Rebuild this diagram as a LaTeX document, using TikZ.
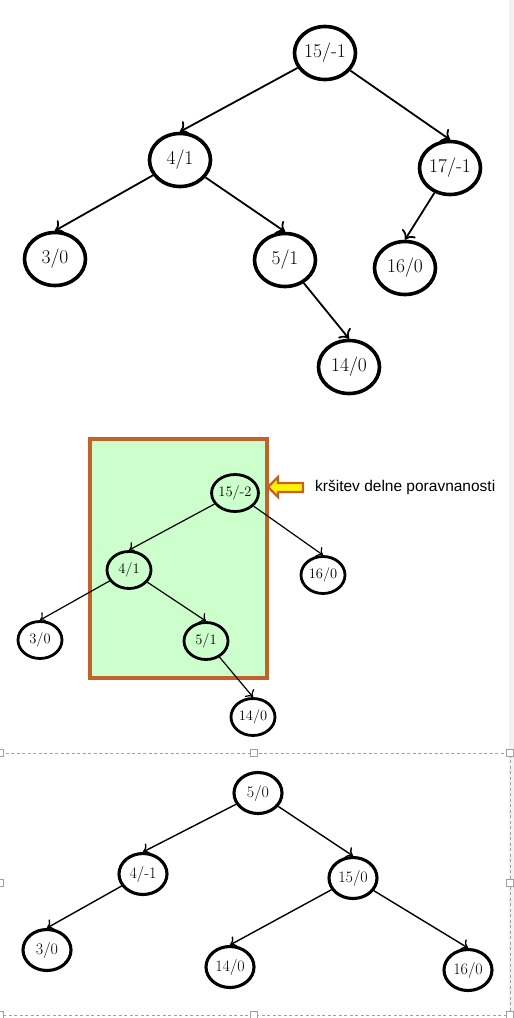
\documentclass[tikz,border=0pt]{standalone}
\usepackage{fontspec}
\newfontfamily\notefont{Liberation Sans}
\usetikzlibrary{shapes.geometric,arrows.meta}

\definecolor{boxgreen}{RGB}{204,255,204}
\definecolor{boxorange}{RGB}{192,98,42}
\definecolor{frame}{RGB}{160,160,160}
\definecolor{strip}{RGB}{243,242,241}

\tikzset{
  bignode/.style={ellipse, draw, line width=3.6pt, minimum width=61pt, minimum height=53pt,
    inner sep=0pt, font=\fontsize{19.5}{21}\selectfont},
  midnode/.style={ellipse, draw, line width=2.8pt, minimum width=44pt, minimum height=37pt,
    inner sep=0pt, font=\fontsize{14.5}{16}\selectfont},
  lownode/.style={ellipse, draw, line width=3.1pt, minimum width=48pt, minimum height=41pt,
    inner sep=0pt, font=\fontsize{16}{18}\selectfont},
  bigedge/.style={line width=1.8pt, -{To[length=8pt,width=16pt]}},
  midedge/.style={line width=1.2pt, -{To[length=6pt,width=12pt]}},
  lowedge/.style={line width=1.4pt, -{To[length=6.5pt,width=13pt]}},
  handle/.style={draw=frame, fill=white, line width=0.7pt, minimum size=7pt, inner sep=0pt}
}

\begin{document}
\begin{tikzpicture}[x=1pt,y=-1pt]
\useasboundingbox (0,0) rectangle (514,1018);
\fill[strip] (509,0) rectangle (514,1018);

% ---- first tree ----
\node[bignode] (a15) at (325,53) {15/-1};
\node[bignode] (a4)  at (180,160) {4/1};
\node[bignode] (a17) at (450,168) {17/-1};
\node[bignode] (a3)  at (55,259) {3/0};
\node[bignode] (a5)  at (285,260) {5/1};
\node[bignode] (a16) at (405,268) {16/0};
\node[bignode] (a14) at (349,367) {14/0};
\draw[bigedge] (a15) -- (a4.north);
\draw[bigedge] (a15) -- (a17.north);
\draw[bigedge] (a4) -- (a3.north);
\draw[bigedge] (a4) -- (a5.north);
\draw[bigedge] (a17) -- (a16.north);
\draw[bigedge] (a5) -- (a14.north);

% ---- second tree, with the unbalanced subtree marked ----
\draw[fill=boxgreen, draw=boxorange, line width=3.2pt] (90,439) rectangle (267,678);
\node[midnode] (b15) at (235,493) {15/-2};
\node[midnode] (b4)  at (129,570) {4/1};
\node[midnode] (b16) at (323,575) {16/0};
\node[midnode] (b3)  at (40,640) {3/0};
\node[midnode] (b5)  at (206,641) {5/1};
\node[midnode] (b14) at (253,717) {14/0};
\draw[midedge] (b15) -- (b4.north);
\draw[midedge] (b15) -- (b16.north);
\draw[midedge] (b4) -- (b3.north);
\draw[midedge] (b4) -- (b5.north);
\draw[midedge] (b5) -- (b14.north);

\draw[fill=yellow, draw=boxorange, line width=2.4pt, line join=miter]
  (268,487) -- (278,477) -- (278,483) -- (303,483) -- (303,492) -- (278,492) -- (278,497) -- cycle;
\node[anchor=west, inner sep=0pt, font=\notefont\fontsize{15.5}{17}\selectfont] (note) at (315,487) {kršitev delne poravnanosti};

% ---- third tree, after rotation ----
\draw[frame, line width=0.7pt, dash pattern=on 3pt off 2.5pt]
  (0,753) -- (510,753) -- (510,1015) -- (0,1015);
\foreach \p in {(0,753),(254,753),(510,753),(0,883),(510,883),(0,1015),(254,1015),(510,1015)}
  \node[handle] at \p {};

\node[lownode] (c5)  at (258,793) {5/0};
\node[lownode] (c4)  at (143,874) {4/-1};
\node[lownode] (c15) at (353,878) {15/0};
\node[lownode] (c3)  at (47,950) {3/0};
\node[lownode] (c14) at (230,967) {14/0};
\node[lownode] (c16) at (468,970) {16/0};
\draw[lowedge] (c5) -- (c4.north);
\draw[lowedge] (c5) -- (c15.north);
\draw[lowedge] (c4) -- (c3.north);
\draw[lowedge] (c15) -- (c14.north);
\draw[lowedge] (c15) -- (c16.north);
\end{tikzpicture}
\end{document}
